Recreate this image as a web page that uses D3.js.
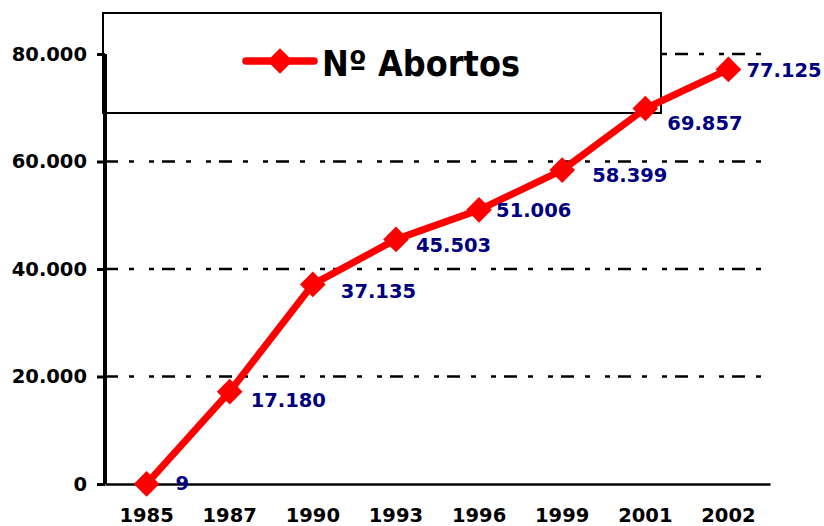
<!DOCTYPE html>
<html>
<head>
<meta charset="utf-8">
<script src="https://cdn.jsdelivr.net/npm/d3@7"></script>
<style>
  body { margin: 0; background: #fff; }
  svg { display: block; }
  text { font-family: "DejaVu Sans", Verdana, sans-serif; font-weight: bold; }
</style>
</head>
<body>
<svg width="824" height="526"></svg>
<script>
// data
var years = ["1985", "1987", "1990", "1993", "1996", "1999", "2001", "2002"];
var abortos = [9, 17180, 37135, 45503, 51006, 58399, 69857, 77125];
var yTicks = [0, 20000, 40000, 60000, 80000];
var seriesName = "Nº Abortos";

// hand placed label nudges (px), like in the original sheet
var labelNudge = [[29, 6], [21, 15], [28, 14], [20, 13], [17, 7], [30, 12], [22, 21], [18, 8]];

window.onload = function() {
	var svg = d3.select("svg");
	var margin = {top: 54, right: 54, bottom: 42, left: 105};
	var width = 824 - margin.left - margin.right;
	var height = 526 - margin.top - margin.bottom;

	var es = d3.formatLocale({decimal: ",", thousands: ".", grouping: [3], currency: ["", ""]});
	var fmt = es.format(",d");

	//scales
	var x = d3.scaleBand().domain(years).range([margin.left, margin.left + width]);
	var y = d3.scaleLinear().domain([0, 80000]).range([margin.top + height, margin.top]);
	var cx = function(i) { return x(years[i]) + x.bandwidth() / 2; };

	// gridlines
	svg.append("g")
		.selectAll("line")
		.data(yTicks.filter(function(d) { return d > 0; }))
		.enter().append("line")
			.attr("x1", margin.left)
			.attr("x2", margin.left + width)
			.attr("y1", function(d) { return y(d); })
			.attr("y2", function(d) { return y(d); })
			.attr("stroke", "#000")
			.attr("stroke-width", 2.5)
			.attr("stroke-dasharray", "13,11,5,15,5,8");

	// legend box (sits over the plot)
	svg.append("rect")
		.attr("x", 103).attr("y", 13)
		.attr("width", 558).attr("height", 100)
		.attr("fill", "#fff")
		.attr("stroke", "#000")
		.attr("stroke-width", 2);

	// y axis
	var yAxis = svg.append("g")
		.attr("transform", "translate(" + margin.left + ",0)")
		.call(d3.axisLeft(y).tickValues(yTicks).tickFormat(fmt).tickSize(8).tickPadding(10));
	yAxis.select(".domain").attr("stroke-width", 4).attr("d", "M0," + y(0) + "V" + y(80000));
	yAxis.selectAll(".tick line").attr("stroke-width", 3);
	yAxis.selectAll(".tick text")
		.attr("font-size", "19.5px")
		.attr("font-family", "DejaVu Sans")
		.attr("font-weight", "bold")
		.attr("fill", "#000");

	// x axis
	var xAxis = svg.append("g")
		.attr("transform", "translate(0," + y(0) + ")")
		.call(d3.axisBottom(x).tickSize(0).tickPadding(24));
	xAxis.select(".domain").attr("stroke-width", 2.5);
	xAxis.selectAll(".tick text")
		.attr("font-size", "19.5px")
		.attr("font-family", "DejaVu Sans")
		.attr("font-weight", "bold")
		.attr("fill", "#000");

	// series
	var line = d3.line()
		.x(function(d, i) { return cx(i); })
		.y(function(d) { return y(d); });
	svg.append("path")
		.datum(abortos)
		.attr("d", line)
		.attr("fill", "none")
		.attr("stroke", "#ff0000")
		.attr("stroke-width", 7)
		.attr("stroke-linejoin", "round");

	var diamond = d3.symbol().type(d3.symbolSquare).size(330);
	svg.append("g")
		.selectAll("path")
		.data(abortos)
		.enter().append("path")
			.attr("d", diamond)
			.attr("transform", function(d, i) { return "translate(" + cx(i) + "," + y(d) + ") rotate(45)"; })
			.attr("fill", "#ff0000");

	// value labels
	svg.append("g")
		.selectAll("text")
		.data(abortos)
		.enter().append("text")
			.attr("x", function(d, i) { return cx(i) + labelNudge[i][0]; })
			.attr("y", function(d, i) { return y(d) + labelNudge[i][1]; })
			.attr("font-size", "19.5px")
			.attr("fill", "#000080")
			.text(function(d) { return fmt(d); });

	// legend entry
	var lg = svg.append("g").attr("transform", "translate(0,61)");
	lg.append("line")
		.attr("x1", 246).attr("x2", 314)
		.attr("stroke", "#ff0000")
		.attr("stroke-width", 7.5)
		.attr("stroke-linecap", "round");
	lg.append("path")
		.attr("d", diamond)
		.attr("transform", "translate(280,0) rotate(45)")
		.attr("fill", "#ff0000");
	lg.append("text")
		.attr("x", 322).attr("y", 15)
		.attr("font-size", "35px")
		.attr("textLength", 198)
		.attr("lengthAdjust", "spacingAndGlyphs")
		.attr("fill", "#000")
		.text(seriesName);
}
</script>
</body>
</html>
